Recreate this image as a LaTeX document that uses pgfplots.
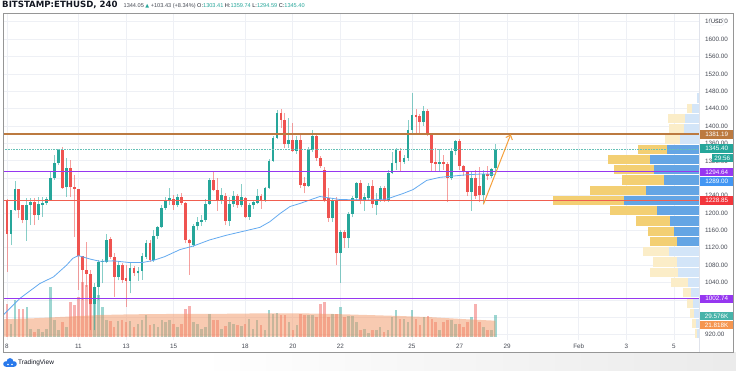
\documentclass[border=0pt]{standalone}
\usepackage{pgfplots}
\pgfplotsset{compat=1.18}
\usepackage{pgfplotstable}
\usepackage{fontspec}
\setmainfont{Liberation Sans}
\newfontfamily\symfont{DejaVu Sans}
\newfontfamily\hdrfont{DejaVu Sans}
\usetikzlibrary{arrows.meta}
\definecolor{upcol}{RGB}{38,166,154}
\definecolor{dncol}{RGB}{239,83,80}
\definecolor{gridcol}{RGB}{238,240,245}
\definecolor{brownl}{RGB}{188,122,64}
\definecolor{purpl}{RGB}{150,55,240}
\definecolor{redl}{RGB}{240,95,80}
\definecolor{redtag}{RGB}{242,54,60}
\definecolor{mablue}{RGB}{100,170,240}
\definecolor{bluetag}{RGB}{66,150,243}
\definecolor{arrowc}{RGB}{245,160,60}
\definecolor{volma}{RGB}{242,150,100}
\definecolor{orangetag}{RGB}{245,150,80}
\definecolor{vpb}{RGB}{100,165,228}
\definecolor{vpy}{RGB}{243,207,115}
\definecolor{vpbl}{RGB}{211,229,248}
\definecolor{vpyl}{RGB}{251,237,200}
\definecolor{txt}{RGB}{19,23,34}
\definecolor{axtxt}{RGB}{70,74,84}
\definecolor{framec}{RGB}{150,150,150}
\definecolor{sepc}{RGB}{224,227,235}
\definecolor{tvblue}{RGB}{41,121,235}

\pgfplotstableread{
k o h l c v
1 1152 1207 1126 1207 13
2 1208 1274 1205 1255 36.7
5 1184 1234 1136 1218 30
6 1218 1234 1172 1226 8
8 1195 1238 1184 1221 8
9 1218 1238 1191 1222 5
10 1222 1238 1218 1232 8
11 1230 1295 1230 1280 50
12 1280 1333 1276 1314 17
13 1314 1347 1310 1346 7
15 1259 1326 1238 1304 10
22 990 1040 930 1030 50
23 1030 1092 1000 1087 42
24 1087 1095 1038 1090 30
25 1087 1152 1084 1138 17
28 1054 1090 1045 1080 16
31 1044 1084 1015 1073 16
33 1061 1075 1044 1067 13
34 1067 1107 1046 1102 17
35 1100 1138 1095 1130 22
37 1092 1161 1088 1148 13
38 1148 1170 1140 1167 10
39 1167 1218 1165 1211 17
40 1211 1238 1207 1230 15
41 1230 1257 1218 1234 17
43 1218 1244 1213 1236 10
47 1126 1175 1123 1170 15
48 1170 1190 1160 1180 13
49 1180 1195 1170 1184 8
50 1184 1233 1180 1220 10
51 1220 1280 1218 1276 23
54 1228 1257 1220 1241 8
56 1182 1236 1170 1220 15
57 1220 1250 1215 1239 13
59 1218 1266 1213 1238 11
61 1192 1222 1184 1218 18
62 1218 1230 1210 1226 8
63 1224 1255 1220 1239 17
65 1229 1260 1226 1257 7
66 1257 1325 1255 1320 27
67 1320 1378 1318 1373 23
68 1373 1437 1370 1429 24
71 1358 1418 1350 1368 15
73 1343 1378 1336 1368 12
76 1262 1352 1260 1345 22
77 1345 1390 1340 1377 22
82 1188 1234 1180 1230 23
84 1107 1160 1040 1157 30
86 1142 1202 1120 1198 21
87 1198 1240 1190 1234 21
88 1234 1272 1228 1268 15
90 1231 1245 1205 1238 8
91 1234 1270 1230 1261 4
93 1218 1245 1195 1228 7
94 1228 1262 1225 1258 10
96 1230 1298 1225 1293 7
97 1293 1340 1290 1314 20
98 1314 1350 1300 1345 27
100 1318 1333 1313 1326 18
101 1326 1415 1320 1392 15
102 1392 1475 1385 1425 27
105 1410 1445 1400 1435 20
109 1313 1347 1296 1318 7
112 1280 1350 1276 1343 17
113 1343 1368 1333 1366 13
117 1249 1295 1205 1280 20
120 1241 1300 1220 1290 10
122 1285 1303 1280 1301 7
123 1303.41 1359.74 1294.59 1345.40 22
}\up

\pgfplotstableread{
k o h l c v
-1 1234 1264 1215 1222 20
0 1230 1233 1065 1152 33
3 1255 1256 1188 1208 28
4 1218 1218 1176 1184 28
7 1226 1234 1172 1195 5
14 1346 1351 1256 1258 15
16 1304 1323 1238 1259 35
17 1259 1287 1146 1255 32
18 1256 1256 1023 1101 40
19 1101 1101 1000 1069 55
20 1069 1134 1030 1060 52
21 1060 1069 930 990 48
26 1140 1146 1095 1100 16
27 1100 1107 1008 1054 10
29 1080 1085 1040 1047 17
30 1050 1080 985 1044 15
32 1073 1078 1056 1061 10
36 1130 1138 1088 1092 12
42 1232 1241 1208 1218 13
44 1238 1245 1218 1224 13
45 1224 1226 1130 1138 28
46 1138 1140 1058 1130 31
52 1276 1295 1250 1253 17
53 1253 1280 1205 1228 17
55 1240 1245 1172 1182 11
58 1239 1243 1212 1218 12
60 1234 1238 1188 1192 13
64 1239 1243 1210 1229 12
69 1429 1440 1395 1414 22
70 1414 1430 1350 1358 22
72 1368 1407 1340 1343 7
74 1368 1380 1257 1264 23
75 1270 1283 1245 1262 22
78 1377 1385 1320 1326 20
79 1326 1330 1303 1307 33
80 1300 1305 1225 1230 35
81 1234 1257 1180 1188 20
83 1230 1236 1080 1107 23
85 1157 1160 1120 1142 20
89 1270 1276 1220 1231 7
92 1262 1275 1212 1221 7
95 1258 1262 1226 1230 5
99 1343 1350 1296 1318 18
103 1425 1440 1380 1420 18
104 1423 1427 1385 1410 12
106 1435 1440 1377 1381 21
107 1381 1383 1296 1316 18
108 1318 1350 1297 1313 15
110 1318 1333 1300 1313 15
111 1313 1318 1225 1280 17
114 1366 1370 1300 1308 13
115 1308 1310 1285 1295 10
116 1295 1297 1240 1249 15
118 1280 1300 1233 1239 33
119 1262 1305 1225 1241 15
121 1290 1307 1275 1285 7
}\down

\pgfplotstableread{
p wb wy
1346.7 32 29
1323.1 49 42
1299.5 45 40
1276.0 35 42
1252.4 53 56
1228.8 75 71
1205.3 42 47
1181.7 29 34
1158.1 25 26
1134.5 22 27
}\vpsat

\pgfplotstableread{
p wb wy
1464.5 2 0
1440.9 7 5
1417.4 14 17
1393.8 15 15
1370.2 19 15
1111.0 30 26
1087.4 22 24
1063.8 21 28
1040.3 11 17
1016.7 8 8
993.1 6 6
969.6 5 4
946.0 3 4
922.4 2 2
}\vppale

\pgfplotsset{
  eb/.style={draw=none, no markers, forget plot},
}

\begin{document}
\begin{tikzpicture}
\useasboundingbox (0pt,0pt) rectangle (736pt,370pt);
\fill[white] (0pt,0pt) rectangle (736pt,370pt);
\shade[left color=white, right color=black!8] (200pt,0pt) rectangle (736pt,17.5pt);
\begin{axis}[
  at={(3pt,30pt)}, anchor=south west, scale only axis,
  width=696pt, height=327pt,
  xmin=-1, xmax=174.3, ymin=908, ymax=1660,
  axis line style={draw=none}, tick style={draw=none}, major tick length=0pt,
  xmajorgrids, ymajorgrids, grid style={gridcol, line width=0.7pt},
  xtick={0,18,30,42,60,72,84,102,114,126,144,156,168},
  xticklabels={8,11,13,15,18,20,22,25,27,29,Feb,3,5},
  ytick={920,960,1000,1040,1080,1120,1160,1200,1240,1280,1320,1360,1400,1440,1480,1520,1560,1600,1640},
  yticklabels={920.00,,,1040.00,1080.00,1120.00,1160.00,1200.00,1240.00,,1320.00,1360.00,1400.00,1440.00,1480.00,1520.00,1560.00,1600.00,1640.00},
  yticklabel pos=right,
  tick label style={font=\fontsize{6.3}{7}\selectfont, text=axtxt},
  xticklabel style={anchor=base, yshift=-8pt, inner sep=0pt},
  yticklabel style={anchor=west, xshift=6pt, inner sep=0pt},
]
% volume bars
\addplot[eb, error bars/.cd, y dir=plus, y explicit, error mark=none,
  error bar style={line width=2.6pt, draw=upcol, draw opacity=0.45}]
  table[x=k, y expr=915.6, y error plus expr={\thisrow{v}*2.2997}] {\up};
\addplot[eb, error bars/.cd, y dir=plus, y explicit, error mark=none,
  error bar style={line width=2.6pt, draw=dncol, draw opacity=0.45}]
  table[x=k, y expr=915.6, y error plus expr={\thisrow{v}*2.2997}] {\down};
% volume MA area
\addplot[draw=none, fill=volma, fill opacity=0.5, forget plot] coordinates {
(-1,915.6) (-1,955.6) (6.6,957.9) (15,961.6) (23.4,965.5) (31.8,967.1) (40.2,967.8) (48.6,967.8) (57,968.5) (65.4,969.4) (73.8,969.4) (82.2,967.8) (90.6,965.5) (99,963.2) (107.4,960.2) (115.8,955.6) (123,952.4) (123,915.6)};
% volume profile
\addplot[eb, error bars/.cd, x dir=minus, x explicit, error mark=none,
  error bar style={line width=9.2pt, draw=vpbl}]
  table[x expr=174.3, y=p, x error minus expr={\thisrow{wb}/3.97}] {\vppale};
\addplot[eb, error bars/.cd, x dir=minus, x explicit, error mark=none,
  error bar style={line width=9.2pt, draw=vpyl}]
  table[x expr={174.3-\thisrow{wb}/3.97}, y=p, x error minus expr={\thisrow{wy}/3.97}] {\vppale};
\addplot[eb, error bars/.cd, x dir=minus, x explicit, error mark=none,
  error bar style={line width=9.2pt, draw=vpb}]
  table[x expr=174.3, y=p, x error minus expr={\thisrow{wb}/3.97}] {\vpsat};
\addplot[eb, error bars/.cd, x dir=minus, x explicit, error mark=none,
  error bar style={line width=9.2pt, draw=vpy}]
  table[x expr={174.3-\thisrow{wb}/3.97}, y=p, x error minus expr={\thisrow{wy}/3.97}] {\vpsat};
% wicks
\addplot[eb, error bars/.cd, y dir=plus, y explicit, error mark=none,
  error bar style={line width=0.8pt, draw=upcol, draw opacity=0.55}]
  table[x=k, y=l, y error plus expr={\thisrow{h}-\thisrow{l}}] {\up};
\addplot[eb, error bars/.cd, y dir=plus, y explicit, error mark=none,
  error bar style={line width=0.8pt, draw=dncol, draw opacity=0.55}]
  table[x=k, y=l, y error plus expr={\thisrow{h}-\thisrow{l}}] {\down};
% bodies
\addplot[eb, error bars/.cd, y dir=plus, y explicit, error mark=none,
  error bar style={line width=2.8pt, draw=upcol}]
  table[x=k, y=o, y error plus expr={\thisrow{c}-\thisrow{o}}] {\up};
\addplot[eb, error bars/.cd, y dir=plus, y explicit, error mark=none,
  error bar style={line width=2.8pt, draw=dncol}]
  table[x=k, y=c, y error plus expr={\thisrow{o}-\thisrow{c}}] {\down};
% moving average
\addplot[mablue, line width=0.8pt, forget plot] coordinates {
(-1,965) (3.3,1004) (8.3,1038) (11.7,1053) (15,1080) (16.6,1096) (18,1102) (21,1094) (23.4,1089) (26.8,1090) (31,1086) (34,1086) (36.9,1091) (39.8,1100) (43.6,1116) (46.9,1124) (51,1138) (55.3,1149) (60,1159) (63.7,1167) (66.2,1180) (68.8,1199) (71.3,1215) (73.8,1222) (76.3,1230) (78.8,1238) (83.9,1231) (91.4,1230) (95.6,1232) (99.8,1245) (102.3,1254) (105.7,1275) (109,1282) (112.4,1285) (115.8,1288) (120,1290) (123,1289)};
% horizontal levels
\addplot[upcol!70, densely dotted, line width=0.6pt, forget plot] coordinates {(-1,1345.40) (174.3,1345.40)};
\addplot[brownl, line width=1.5pt, forget plot] coordinates {(-1,1381.19) (174.3,1381.19)};
\addplot[purpl, line width=1.2pt, forget plot] coordinates {(-1,1294.64) (174.3,1294.64)};
\addplot[redl, line width=1.5pt, forget plot] coordinates {(-1,1228.85) (174.3,1228.85)};
\addplot[purpl, line width=1.2pt, forget plot] coordinates {(-1,1002.74) (174.3,1002.74)};
% arrow
\addplot[arrowc, line width=1pt, forget plot, -{Straight Barb[length=4pt,width=7pt]}] coordinates {(120,1220) (126.9,1381)};
% tag anchors
\coordinate (tA) at (axis cs:174.3,1381.19);
\coordinate (tB) at (axis cs:174.3,1348.4);
\coordinate (tC) at (axis cs:174.3,1326.5);
\coordinate (tD) at (axis cs:174.3,1294.64);
\coordinate (tE) at (axis cs:174.3,1272.5);
\coordinate (tF) at (axis cs:174.3,1228.85);
\coordinate (tG) at (axis cs:174.3,1002.74);
\coordinate (tH) at (axis cs:174.3,963.2);
\coordinate (tI) at (axis cs:174.3,942.5);
\end{axis}
\tikzset{tag/.style={anchor=west, minimum width=33pt, minimum height=8.6pt, inner sep=0pt, text=white, font=\fontsize{6.3}{7}\selectfont}}
\node[tag, fill=brownl] at ([xshift=1pt]tA) {1381.19};
\node[tag, fill=upcol] at ([xshift=1pt]tB) {1345.40};
\node[tag, fill=upcol, anchor=east, minimum width=21pt] at ([xshift=34pt]tC) {29:56};
\node[tag, fill=purpl] at ([xshift=1pt]tD) {1294.64};
\node[tag, fill=bluetag] at ([xshift=1pt]tE) {1289.00};
\node[tag, fill=redtag] at ([xshift=1pt]tF) {1228.85};
\node[tag, fill=purpl] at ([xshift=1pt]tG) {1002.74};
\node[tag, fill=upcol!85] at ([xshift=1pt]tH) {29.576K};
\node[tag, fill=orangetag] at ([xshift=1pt]tI) {21.818K};
\node[draw=sepc, fill=white, rounded corners=2pt, inner sep=1.3pt, font=\fontsize{5.5}{6}\selectfont, text=txt] at (717pt,348pt) {USD};
% frame
\draw[sepc, line width=0.6pt] (699pt,18pt) -- (699pt,357pt);
\draw[framec, line width=0.8pt] (3pt,18pt) rectangle (733pt,357pt);
% header
\node[anchor=west, inner sep=0pt, text=txt] at (2pt,365pt)
 {{\hdrfont\bfseries\fontsize{8.6}{9}\selectfont BITSTAMP:ETHUSD, 240}\hspace{6pt}{\fontsize{5.6}{7}\selectfont\textcolor{axtxt}{1344.05} {\symfont\fontsize{5}{6}\selectfont\textcolor{upcol}{▲}} \textcolor{axtxt}{+103.43 (+8.34\%)} O:\textcolor{upcol}{1303.41} H:\textcolor{upcol}{1359.74} L:\textcolor{upcol}{1294.59} C:\textcolor{upcol}{1345.40}}};
% footer logo
\fill[tvblue] (6pt,6pt) circle (2.8pt);
\fill[tvblue] (10pt,8.5pt) circle (3.4pt);
\fill[tvblue] (14pt,6pt) circle (2.8pt);
\fill[tvblue] (6pt,3.2pt) rectangle (14pt,6pt);
\fill[white] (8pt,5.5pt) circle (0.9pt);
\fill[white] (12pt,5.5pt) circle (0.9pt);
\node[anchor=west, inner sep=0pt, font=\fontsize{6.5}{7.5}\selectfont, text=txt] at (18pt,7.3pt) {TradingView};
\end{tikzpicture}
\end{document}
